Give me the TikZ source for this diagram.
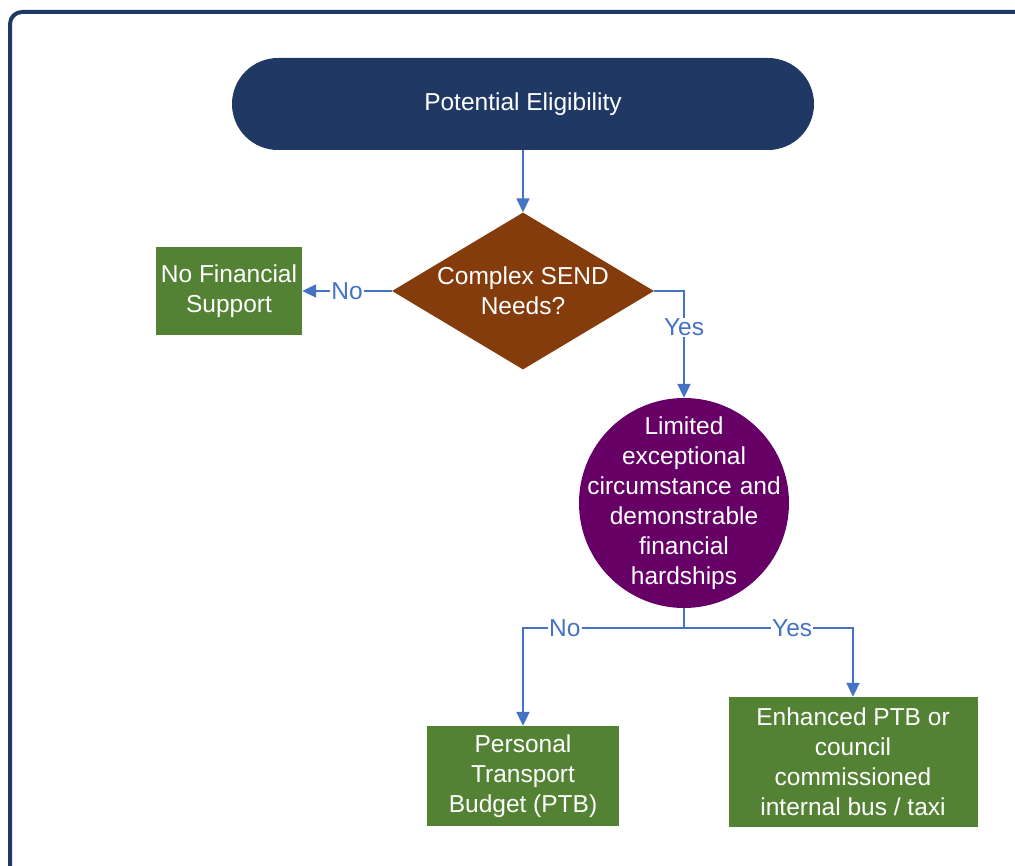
\documentclass[tikz,border=0pt]{standalone}
\usepackage{fontspec}
\setmainfont{Liberation Sans}
\usetikzlibrary{positioning, arrows.meta, shapes.geometric}
\definecolor{navy}{HTML}{203864}
\definecolor{brown}{HTML}{843C0C}
\definecolor{leaf}{HTML}{548235}
\definecolor{plum}{HTML}{660066}
\definecolor{link}{HTML}{4472C4}

\begin{document}
\begin{tikzpicture}[
  x=1pt, y=-1pt,
  every node/.style={font=\fontsize{24.5}{30}\selectfont},
  terminal/.style={
    fill=navy, text=white, rounded corners=46pt,
    minimum width=582pt, minimum height=92pt, align=center
  },
  decision/.style={
    diamond, fill=brown, text=white, inner sep=0pt, aspect=1.67,
    minimum width=262pt, minimum height=157pt, align=center
  },
  check/.style={
    circle, fill=plum, text=white, inner sep=-30pt,
    minimum size=210pt, text width=200pt, align=center
  },
  outcome/.style={
    fill=leaf, text=white, inner sep=0pt, align=center
  },
  arrow/.style={-{Triangle[length=14pt, width=13pt]}, link, line width=2pt},
  wire/.style={link, line width=2pt},
  lbl/.style={fill=white, text=link, inner sep=1pt}
]
  \useasboundingbox (0,0) rectangle (1015,866);
  \clip (0,0) rectangle (1015,866);
  \draw[navy, line width=4pt, rounded corners=12pt] (10,12) rectangle (1060,920);

  \node[terminal] (start) at (523,104) {Potential Eligibility};
  \node[decision] (send) at (523,291) {Complex SEND\\Needs?};
  \node[outcome, minimum width=146pt, minimum height=88pt] (nofin) at (229,291) {No Financial\\Support};
  \node[check] (hard) at (684,503) {Limited\\exceptional\\circumstance and\\demonstrable\\financial\\hardships};
  \node[outcome, minimum width=192pt, minimum height=100pt] (ptb) at (523,776) {Personal\\Transport\\Budget (PTB)};
  \node[outcome, minimum width=249pt, minimum height=130pt] (enh) at (853,762) {Enhanced PTB or\\council\\commissioned\\internal bus / taxi};
  \coordinate (split) at (684,628);

  \draw[arrow] (start) -- (send);
  \draw[arrow] (send) -- node[lbl]{No} (nofin);
  \draw[arrow] (send.east) -| node[lbl, pos=0.67]{Yes} (hard.north);
  \draw[wire] (hard.south) -- (split);
  \draw[arrow] (split) -| node[lbl, pos=0.37]{No} (ptb.north);
  \draw[arrow] (split) -| node[lbl, pos=0.32]{Yes} (enh.north);
\end{tikzpicture}
\end{document}
